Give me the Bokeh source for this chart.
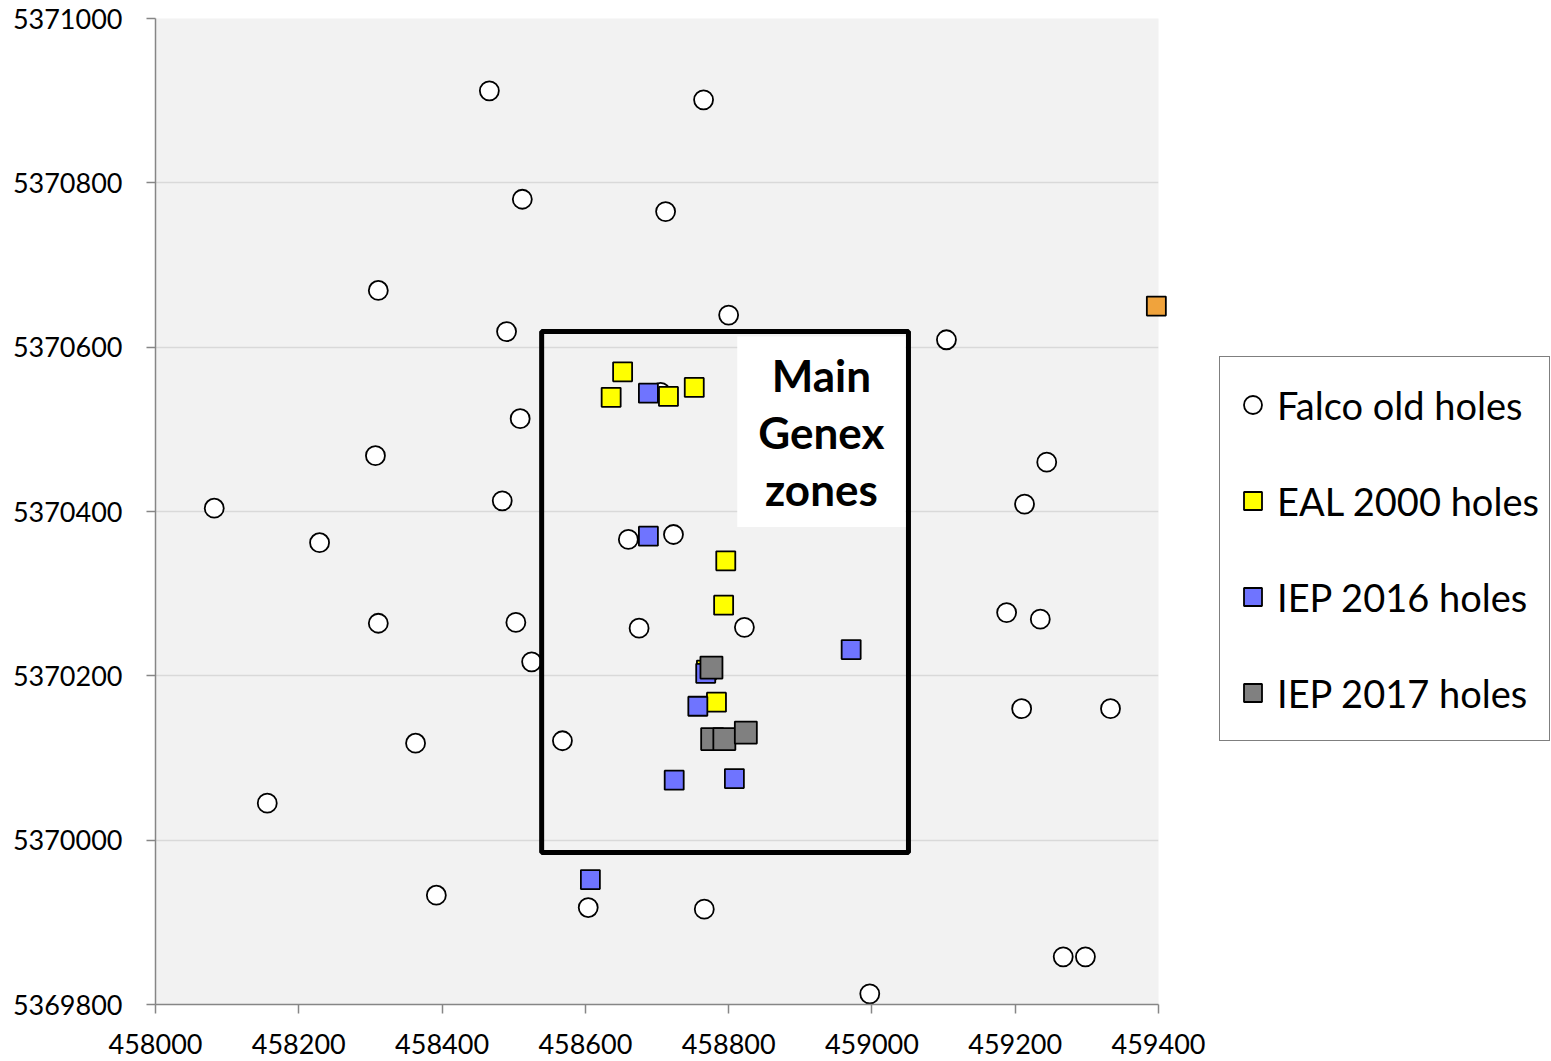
from bokeh.plotting import figure
from bokeh.models import (Legend, LegendItem, FixedTicker, BasicTickFormatter, Range1d)
from bokeh.core.properties import value
from bokeh.embed import file_html
from bokeh.resources import INLINE

# ---------------- data ----------------
falco_x = [458466, 458765, 458512, 458712, 458311, 458800, 458490, 459104, 458509,
           458307, 459244, 458082, 458484, 459213, 458723, 458660, 458229, 459188,
           459235, 458311, 458503, 458675, 458822, 458525, 459209, 459333, 458363,
           458568, 458156, 458392, 458604, 458766, 459267, 459298, 458997, 458705]
falco_y = [5370912, 5370901, 5370780, 5370765, 5370669, 5370639, 5370619, 5370609, 5370513,
           5370468, 5370460, 5370404, 5370413, 5370409, 5370372, 5370366, 5370362, 5370277,
           5370269, 5370264, 5370265, 5370258, 5370259, 5370217, 5370160, 5370160, 5370118,
           5370121, 5370045, 5369933, 5369918, 5369916, 5369858, 5369858, 5369813, 5370545]

eal_x = [458652, 458636, 458716, 458752, 458796, 458793, 458783, 458769]
eal_y = [5370570, 5370539, 5370540, 5370551, 5370340, 5370286, 5370168, 5370207]

iep16_x = [458688, 458688, 458971, 458768, 458757, 458724, 458808, 458607]
iep16_y = [5370544, 5370370, 5370232, 5370203, 5370163, 5370073, 5370075, 5369952]

iep17_x = [458776, 458777, 458794, 458824]
iep17_y = [5370210, 5370123, 5370123, 5370131]

other_x = [459397]
other_y = [5370650]

series_labels = ["Falco old holes", "EAL 2000 holes", "IEP 2016 holes", "IEP 2017 holes"]

x_ticks = [458000, 458200, 458400, 458600, 458800, 459000, 459200, 459400]
y_ticks = [5369800, 5370000, 5370200, 5370400, 5370600, 5370800, 5371000]

zone_label = "Main\nGenex\nzones"
zone_left, zone_right, zone_bottom, zone_top = 458539, 459051, 5369985, 5370619
label_left, label_right, label_bottom, label_top = 458812, 459047, 5370381, 5370613

FONT = "Lato"

# ---------------- figure ----------------
p = figure(output_backend="svg", toolbar_location=None,
           frame_width=1003, frame_height=986,
           min_border_left=155, min_border_top=18, min_border_bottom=57,
           min_border_right=393,
           x_range=Range1d(458000, 459400), y_range=Range1d(5369800, 5371000))
p.border_fill_color = "white"
p.background_fill_color = "#F2F2F2"
p.outline_line_color = None

for ax in (p.xaxis[0], p.yaxis[0]):
    ax.axis_line_color = "#868686"
    ax.axis_line_width = 1.5
    ax.major_tick_line_color = "#868686"
    ax.major_tick_line_width = 1.5
    ax.major_tick_out = 9
    ax.major_tick_in = 0
    ax.minor_tick_line_color = None
    ax.major_label_text_font = FONT
    ax.major_label_text_font_size = "27px"
    ax.major_label_text_color = "black"
    ax.formatter = BasicTickFormatter(use_scientific=False)

p.xaxis[0].ticker = FixedTicker(ticks=x_ticks)
p.yaxis[0].ticker = FixedTicker(ticks=y_ticks)
p.xaxis[0].major_label_standoff = 20
p.yaxis[0].major_label_standoff = 24

p.xgrid.grid_line_color = None
p.ygrid.ticker = FixedTicker(ticks=y_ticks)
p.ygrid.grid_line_color = "#D9D9D9"
p.ygrid.grid_line_width = 1.5

r_falco = p.scatter(falco_x, falco_y, marker="circle", size=19,
                    fill_color="white", line_color="black", line_width=1.8)
r_eal = p.scatter(eal_x, eal_y, marker="square", size=19,
                  fill_color="#FFFF00", line_color="black", line_width=1.8)
r_16 = p.scatter(iep16_x, iep16_y, marker="square", size=19,
                 fill_color="#6F74FF", line_color="black", line_width=1.8)
r_17 = p.scatter(iep17_x, iep17_y, marker="square", size=22,
                 fill_color="#808080", line_color="black", line_width=1.8)
r_other = p.scatter(other_x, other_y, marker="square", size=19,
                    fill_color="#F0A33C", line_color="black", line_width=1.8,
                    level="overlay")

# zone rectangle
p.quad(left=[zone_left], right=[zone_right], bottom=[zone_bottom], top=[zone_top],
       fill_color=None, line_color="black", line_width=5)
# white label box
p.quad(left=[label_left], right=[label_right], bottom=[label_bottom], top=[label_top],
       fill_color="white", line_color=None)
p.text(x=[(label_left + label_right) / 2], y=[(label_bottom + label_top) / 2],
       text=[zone_label], text_align="center", text_baseline="middle",
       text_font=value(FONT), text_font_style="bold", text_font_size="44px",
       text_line_height=1.10, text_color="black")

legend = Legend(items=[LegendItem(label=lab, renderers=[r])
                       for lab, r in zip(series_labels, [r_falco, r_eal, r_16, r_17])],
                location=(61, 263))
legend.glyph_width = 45
legend.glyph_height = 75
legend.label_height = 75
legend.spacing = 21
legend.padding = 10
legend.margin = 0
legend.label_standoff = 2
legend.label_text_font = FONT
legend.label_text_font_size = "38px"
legend.label_text_color = "black"
legend.border_line_color = "black"
legend.border_line_width = 1.5
legend.background_fill_color = "white"
legend.background_fill_alpha = 1
p.add_layout(legend, "right")

open("out.html", "w").write(file_html(p, INLINE))
